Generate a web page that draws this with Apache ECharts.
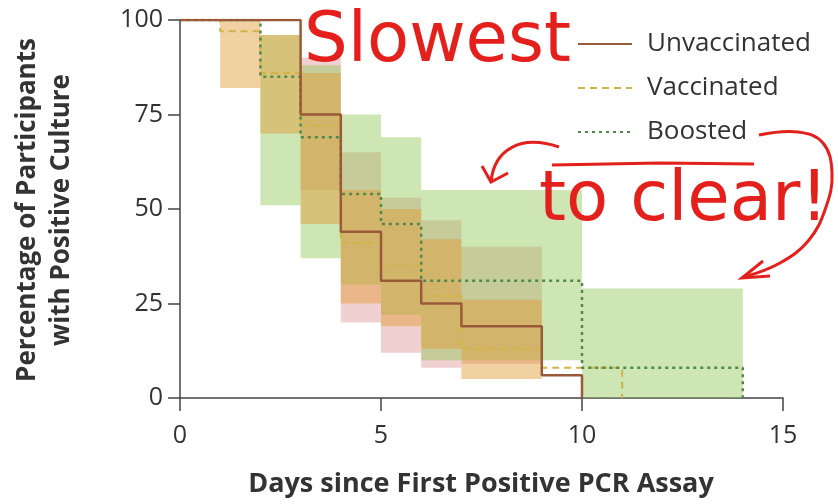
<!DOCTYPE html>
<html><head><meta charset="utf-8">
<script src="https://cdn.jsdelivr.net/npm/echarts@6/dist/echarts.min.js"></script>
<style>html,body{margin:0;padding:0;background:#fff}#c{width:838px;height:504px}</style>
</head><body><div id="c"></div>
<script>
// ---- data ----
const seriesNames = ['Unvaccinated', 'Vaccinated', 'Boosted'];
const xTicks = [0, 5, 10, 15];
const yTicks = [0, 25, 50, 75, 100];

// step-curve change points (day, percent)
const unvaxDays = [0, 3, 4, 5, 6, 7, 9, 10];
const unvaxPct  = [100, 75, 44, 31, 25, 19, 6, 0];
const vaxDays   = [0, 1, 2, 3, 4, 5, 6, 7, 9, 11];
const vaxPct    = [100, 97, 86, 72, 41, 35, 27, 13, 8, 0];
const boostDays = [0, 2, 3, 4, 5, 6, 10, 14];
const boostPct  = [100, 85, 69, 54, 46, 31, 8, 0];

// confidence bands: interval start, end, lower, upper
const unvaxBandStart = [3, 4, 5, 6, 7];
const unvaxBandEnd   = [4, 5, 6, 7, 9];
const unvaxBandLo    = [55, 20, 12, 8, 9];
const unvaxBandHi    = [90, 65, 53, 47, 40];

const vaxBandStart = [1, 2, 3, 4, 5, 6, 7];
const vaxBandEnd   = [2, 3, 4, 5, 6, 7, 9];
const vaxBandLo    = [82, 70, 46, 25, 19, 13, 5];
const vaxBandHi    = [100, 96, 86, 55, 50, 42, 26];

const boostBandStart = [2, 3, 4, 5, 6, 10];
const boostBandEnd   = [3, 4, 5, 6, 10, 14];
const boostBandLo    = [51, 37, 30, 22, 10, 0];
const boostBandHi    = [96, 88, 75, 69, 55, 29];

// ---- helpers ----
const zip2 = (a, b) => a.map((v, i) => [v, b[i]]);
const band = (s, e, lo, hi) => s.map((v, i) => [v, e[i], lo[i], hi[i]]);
function bandRender(color) {
  return function (params, api) {
    const p0 = api.coord([api.value(0), api.value(3)]);
    const p1 = api.coord([api.value(1), api.value(2)]);
    return { type: 'rect', shape: { x: p0[0], y: p0[1], width: p1[0] - p0[0], height: p1[1] - p0[1] },
             style: { fill: color } };
  };
}
const FONT = '"Open Sans", "Noto Sans", sans-serif';
const RED = '#e3201b';

const chart = echarts.init(document.getElementById('c'), null, { renderer: 'canvas' });
chart.setOption({
  animation: false,
  backgroundColor: '#ffffff',
  grid: { left: 180, right: 55, top: 20, bottom: 106 },
  xAxis: {
    type: 'value', min: xTicks[0], max: xTicks[xTicks.length - 1], interval: 5,
    axisLine: { onZero: false, lineStyle: { color: '#444', width: 1.5 } },
    axisTick: { length: 13, lineStyle: { color: '#444', width: 1.5 } },
    axisLabel: { fontSize: 25, color: '#333', fontFamily: FONT, margin: 25 },
    splitLine: { show: false }
  },
  yAxis: {
    type: 'value', min: yTicks[0], max: yTicks[yTicks.length - 1], interval: 25,
    axisLine: { show: true, lineStyle: { color: '#444', width: 1.5 } },
    axisTick: { show: true, length: 12, lineStyle: { color: '#444', width: 1.5 } },
    axisLabel: { fontSize: 25, color: '#333', fontFamily: FONT, margin: 17 },
    splitLine: { show: false }
  },
  legend: {
    orient: 'vertical', left: 577, top: 29, padding: 0, itemWidth: 54, itemHeight: 14, itemGap: 14,
    data: seriesNames,
    itemStyle: { color: 'rgba(0,0,0,0)', borderWidth: 0, opacity: 0 },
    textStyle: { fontSize: 26, color: '#333', fontFamily: FONT, lineHeight: 30, padding: [0, 0, 0, 10] }
  },
  series: [
    { type: 'custom', renderItem: bandRender('rgba(205,100,100,0.3)'), encode: { x: [0, 1], y: [2, 3] },
      data: band(unvaxBandStart, unvaxBandEnd, unvaxBandLo, unvaxBandHi), z: 1, silent: true },
    { type: 'custom', renderItem: bandRender('rgba(144,199,88,0.45)'), encode: { x: [0, 1], y: [2, 3] },
      data: band(boostBandStart, boostBandEnd, boostBandLo, boostBandHi), z: 1, silent: true },
    { type: 'custom', renderItem: bandRender('rgba(226,155,55,0.47)'), encode: { x: [0, 1], y: [2, 3] },
      data: band(vaxBandStart, vaxBandEnd, vaxBandLo, vaxBandHi), z: 1, silent: true },
    { name: 'Unvaccinated', type: 'line', step: 'end', symbol: 'none', showSymbol: false, z: 5,
      data: zip2(unvaxDays, unvaxPct), color: '#9a5a3a',
      lineStyle: { color: '#9a5a3a', width: 2.5, type: 'solid' } },
    { name: 'Vaccinated', type: 'line', step: 'end', symbol: 'none', showSymbol: false, z: 4,
      data: zip2(vaxDays, vaxPct), color: '#d2b446',
      lineStyle: { color: '#d2b446', width: 2, type: [7, 5] } },
    { name: 'Boosted', type: 'line', step: 'end', symbol: 'none', showSymbol: false, z: 4,
      data: zip2(boostDays, boostPct), color: '#4e8a4e',
      lineStyle: { color: '#4e8a4e', width: 2.5, type: [3, 4] } }
  ],
  graphic: [
    { type: 'text', x: 45, y: 210, rotation: Math.PI / 2, z: 10,
      style: { text: 'Percentage of Participants\nwith Positive Culture', font: 'bold 26px ' + FONT,
               fill: '#333', textAlign: 'center', textVerticalAlign: 'middle', lineHeight: 34 } },
    { type: 'text', x: 481, y: 484, z: 10,
      style: { text: 'Days since First Positive PCR Assay', font: 'bold 27px ' + FONT,
               fill: '#333', textAlign: 'center', textVerticalAlign: 'middle' } },
    { type: 'text', x: 304, y: 43, z: 20,
      style: { text: 'Slowest', font: '69px "DejaVu Sans", sans-serif', fill: RED,
               textAlign: 'left', textVerticalAlign: 'middle' } },
    { type: 'text', x: 539, y: 202, z: 20,
      style: { text: 'to clear!', font: '69px "DejaVu Sans", sans-serif', fill: RED,
               textAlign: 'left', textVerticalAlign: 'middle' } },
    { type: 'polyline', z: 20, shape: { points: [[552, 165], [660, 163], [754, 164]] },
      style: { stroke: RED, lineWidth: 3, fill: null } },
    { type: 'bezierCurve', z: 20, shape: { x1: 559, y1: 147, cpx1: 520, cpy1: 134, cpx2: 494, cpy2: 150, x2: 491, y2: 182 },
      style: { stroke: RED, lineWidth: 3, fill: null } },
    { type: 'polyline', z: 20, shape: { points: [[482, 166], [491, 182], [508, 173]] },
      style: { stroke: RED, lineWidth: 3, fill: null } },
    { type: 'polyline', z: 20, shape: { smooth: 0.4, points: [[759, 135], [798, 132], [823, 143], [832, 173], [826, 207], [809, 240], [780, 263], [744, 277]] },
      style: { stroke: RED, lineWidth: 3, fill: null } },
    { type: 'polyline', z: 20, shape: { points: [[763, 261], [742, 278], [770, 276]] },
      style: { stroke: RED, lineWidth: 3, fill: null } }
  ]
});
</script></body></html>
